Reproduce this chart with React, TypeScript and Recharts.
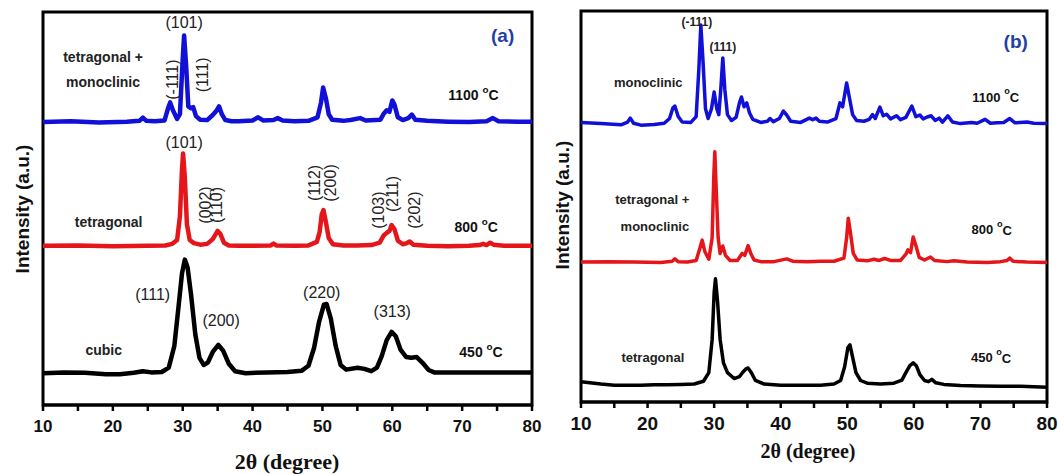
import { LineChart, Line, XAxis, YAxis, ReferenceDot, ReferenceArea } from 'recharts';

type Pt = [number, number];

// x axis: 2-theta, ticks every 5 degrees, labels every 10
const thetaTicks = [10, 15, 20, 25, 30, 35, 40, 45, 50, 55, 60, 65, 70, 75, 80];
const thetaLabels = [10, 20, 30, 40, 50, 60, 70, 80];

// panel (a) patterns, intensity in arbitrary units (0-100, offset per pattern)
const a1100: Pt[] = [
  [10, 72], [14, 72.2], [18, 71.9], [22, 72.1], [23.8, 72.3], [24.3, 73.1], [24.8, 72.3], [26, 72.2],
  [27.4, 72.4], [27.9, 75.5], [28.2, 77], [28.6, 75], [29.2, 72.8], [29.6, 74], [30.0, 88], [30.2, 94],
  [30.5, 86], [30.8, 76], [31.2, 75.5], [31.5, 75.8], [31.9, 73.5], [32.5, 72.6], [33.5, 72.5],
  [34.3, 73.8], [34.8, 74.8], [35.2, 76], [35.6, 74], [36.1, 72.5], [37, 72.2], [38, 72.2], [40, 72.4],
  [40.8, 73.2], [41.5, 72.4], [43, 72.5], [43.6, 73], [44.3, 72.4], [46, 72.2], [48, 72.3], [49.3, 73.2],
  [49.8, 77], [50.1, 80.8], [50.5, 78], [50.9, 74], [51.4, 72.6], [53, 72.3], [54, 72.5], [55.4, 73],
  [56.2, 72.4], [58.3, 72.6], [58.8, 74.2], [59.2, 75], [59.6, 74.6], [60.0, 77.5], [60.3, 76.5],
  [60.8, 73.2], [61.5, 72.5], [62.3, 73], [62.8, 73.9], [63.3, 72.6], [65, 72.3], [68, 72.1], [71, 72],
  [73.5, 72.2], [74.4, 73], [75.2, 72.2], [78, 72.1], [80, 72.1],
];
const a800: Pt[] = [
  [10, 40.5], [15, 40.6], [20, 40.4], [25, 40.5], [27.5, 40.6], [28.5, 41], [29.2, 42], [29.6, 48],
  [29.9, 60], [30.05, 64], [30.3, 58], [30.6, 46], [31, 42], [31.6, 41.2], [32.5, 40.8], [33.5, 41],
  [34.3, 42.2], [35, 44.3], [35.4, 43.5], [35.9, 41.3], [36.6, 40.6], [38, 40.5], [40, 40.5],
  [42.6, 40.6], [43, 41.1], [43.4, 40.6], [46, 40.5], [48, 40.6], [49.2, 41.5], [49.6, 44], [49.9, 48.5],
  [50.15, 49.6], [50.5, 46.5], [50.9, 42.5], [51.5, 40.9], [53, 40.6], [55, 40.6], [57, 40.7],
  [58.2, 41.3], [58.8, 43.2], [59.2, 43.8], [59.6, 44.3], [59.9, 45.8], [60.3, 44.8], [60.8, 41.8],
  [61.5, 40.9], [62.1, 41.2], [62.5, 41.6], [63, 40.8], [65, 40.5], [68, 40.4], [71, 40.5], [72.5, 40.7],
  [73, 41], [73.5, 40.7], [74, 41.3], [74.5, 40.8], [76, 40.5], [80, 40.5],
];
const a450: Pt[] = [
  [10, 8.1], [13, 8.3], [16, 8.2], [19, 7.8], [21, 7.8], [23, 8.2], [24.3, 8.6], [25.5, 8.3], [27, 8.4],
  [28, 9.5], [28.8, 15], [29.4, 25], [29.9, 33.5], [30.3, 37], [30.7, 35], [31.2, 28], [31.8, 18],
  [32.4, 12], [33, 10.2], [33.6, 10.8], [34.3, 13.5], [35.1, 15.3], [35.8, 13.8], [36.6, 10.5],
  [37.5, 8.6], [39, 8.1], [42, 8.3], [45, 8.4], [47, 8.7], [48, 10], [48.8, 14.5], [49.5, 21],
  [50.2, 25.5], [50.6, 25.7], [51.2, 22], [51.9, 15], [52.6, 10.2], [53.4, 9], [55, 9.5], [56, 9.2],
  [57, 8.6], [57.8, 9.5], [58.5, 12.5], [59.2, 16.5], [59.9, 18.6], [60.5, 17.5], [61.2, 14], [62, 12.2],
  [62.7, 12], [63.5, 12.2], [64.3, 10.8], [65.2, 8.9], [66, 8.3], [70, 8.3], [75, 8.3], [80, 8.3],
];

// panel (b) patterns
const b1100: Pt[] = [
  [10, 71.5], [13, 71.2], [16, 70.9], [17, 71.6], [17.4, 72.6], [17.9, 71.3], [19, 70.8], [21, 71],
  [22.5, 71.3], [23.3, 72.5], [23.8, 75.2], [24.1, 75.7], [24.6, 73], [25.2, 71.6], [26.5, 71.5],
  [27.3, 73], [27.7, 85], [28.0, 96.4], [28.3, 88], [28.7, 75], [29.1, 72.5], [29.6, 75], [30.0, 79.3],
  [30.4, 75], [30.7, 73.5], [31.0, 80], [31.3, 88], [31.6, 80], [32, 73.5], [32.6, 72], [33.3, 72.8],
  [33.8, 76.5], [34.1, 78], [34.5, 75.5], [34.9, 76.5], [35.3, 74], [35.8, 72.3], [37, 71.5], [38, 71.8],
  [38.4, 72.5], [38.9, 71.7], [39.8, 72.5], [40.4, 74.4], [40.9, 73.4], [41.5, 71.8], [43, 71.5],
  [44.3, 72.6], [44.8, 72.2], [45.3, 72.6], [45.8, 71.8], [47, 71.6], [48.3, 72.5], [48.9, 76.5],
  [49.3, 75.5], [49.9, 81.6], [50.3, 78], [50.8, 73.5], [51.4, 72], [52.5, 71.8], [53.3, 72.3],
  [53.8, 73.5], [54.2, 72.5], [54.9, 75.4], [55.4, 73.2], [55.9, 73.6], [56.5, 72.4], [57.4, 73.2],
  [58, 72.2], [58.8, 72.8], [59.7, 75.7], [60.3, 73], [60.9, 73.4], [61.4, 72.4], [62, 72.9],
  [62.6, 73.2], [63.2, 72], [63.8, 72.6], [64.3, 71.6], [65.1, 73.2], [65.8, 71.6], [67, 71.2],
  [68.7, 71.5], [69.5, 71.3], [70.7, 72.3], [71.5, 71.3], [72.5, 71.4], [73.5, 71.5], [74.4, 72.5],
  [75.2, 71.4], [77, 71.6], [78, 71.3], [80, 71.2],
];
const b800: Pt[] = [
  [10, 35.8], [14, 35.9], [18, 35.8], [22, 35.7], [23.7, 36], [24.1, 36.6], [24.6, 35.9], [26, 35.8],
  [27.3, 36.2], [27.8, 39], [28.2, 41.4], [28.6, 38.5], [29.2, 36.5], [29.7, 42], [29.95, 58],
  [30.1, 64], [30.3, 55], [30.6, 42], [30.9, 38], [31.3, 39.9], [31.7, 37.5], [32.4, 36.2], [33.5, 36.2],
  [34.2, 38], [34.6, 37.5], [35.1, 40], [35.5, 38], [36, 36.3], [37, 35.9], [39, 35.9], [40.9, 36.6],
  [41.8, 36], [44, 35.9], [46, 36], [48, 36], [49.5, 36.8], [49.9, 42], [50.15, 47], [50.5, 43],
  [50.9, 38], [51.5, 36.3], [53, 36.1], [54, 36.5], [54.8, 36.2], [55.6, 36.7], [56.5, 36.2], [58, 36.2],
  [58.8, 37.8], [59.1, 38.9], [59.5, 38.2], [59.9, 42.2], [60.3, 40], [60.8, 37], [61.6, 36.3],
  [62.5, 37.1], [63.1, 36.2], [65, 35.9], [66, 36.1], [68, 35.8], [71, 35.7], [73, 35.9], [74, 36.2],
  [74.4, 36.8], [74.9, 36], [77, 35.8], [80, 35.7],
];
const b450: Pt[] = [
  [10, 5.2], [11, 5.0], [13, 4.6], [15, 4.3], [17, 4.3], [19, 4.3], [21, 4.4], [23, 4.4], [25, 4.5],
  [27, 4.6], [28.4, 5.3], [29.2, 7.5], [29.7, 16], [30.0, 28], [30.2, 31.5], [30.5, 26], [30.9, 16],
  [31.4, 10], [32, 7.5], [33, 6], [33.8, 6.5], [34.3, 7.6], [34.8, 8.5], [35.1, 8.7], [35.6, 7.5],
  [36.2, 5.5], [37.5, 4.6], [40, 4.3], [43, 4.3], [46, 4.3], [48, 4.6], [49, 5.5], [49.6, 9], [50.1, 14],
  [50.4, 14.6], [50.8, 11.5], [51.3, 7.5], [52, 5.5], [53, 4.8], [55, 4.6], [57, 4.8], [58.2, 5.6],
  [58.8, 7.5], [59.4, 9.3], [59.9, 10], [60.4, 9.2], [60.9, 7], [61.6, 5.5], [62.2, 5.2], [62.7, 5.8],
  [63.3, 4.9], [64.5, 4.5], [67, 4.2], [70, 4.1], [73, 4.0], [76, 4.0], [80, 3.8],
];

type Note = { x: number; y: number; text: string; kind: 'phase' | 'hkl' | 'hklV' | 'temp' | 'tag' };

const notesA: Note[] = [
  { x: 18.6, y: 88.5, text: 'tetragonal +', kind: 'phase' },
  { x: 18.6, y: 82.2, text: 'monoclinic', kind: 'phase' },
  { x: 30.2, y: 97.3, text: '(101)', kind: 'hkl' },
  { x: 28.6, y: 82.8, text: '(-111)', kind: 'hklV' },
  { x: 32.8, y: 84.0, text: '(111)', kind: 'hklV' },
  { x: 71.6, y: 78.9, text: '1100', kind: 'temp' },
  { x: 75.8, y: 94.1, text: '(a)', kind: 'tag' },
  { x: 30.2, y: 66.7, text: '(101)', kind: 'hkl' },
  { x: 33.3, y: 50.9, text: '(002)', kind: 'hklV' },
  { x: 34.9, y: 50.9, text: '(110)', kind: 'hklV' },
  { x: 19.4, y: 46.6, text: 'tetragonal', kind: 'phase' },
  { x: 48.9, y: 56.5, text: '(112)', kind: 'hklV' },
  { x: 51.1, y: 56.5, text: '(200)', kind: 'hklV' },
  { x: 58.0, y: 49.6, text: '(103)', kind: 'hklV' },
  { x: 60.1, y: 53.7, text: '(211)', kind: 'hklV' },
  { x: 63.2, y: 49.6, text: '(202)', kind: 'hklV' },
  { x: 72.0, y: 45.3, text: '800', kind: 'temp' },
  { x: 25.7, y: 28.0, text: '(111)', kind: 'hkl' },
  { x: 35.5, y: 21.6, text: '(200)', kind: 'hkl' },
  { x: 18.7, y: 14.0, text: 'cubic', kind: 'phase' },
  { x: 49.9, y: 28.5, text: '(220)', kind: 'hkl' },
  { x: 60.0, y: 23.7, text: '(313)', kind: 'hkl' },
  { x: 72.7, y: 13.5, text: '450', kind: 'temp' },
];

const notesB: Note[] = [
  { x: 27.4, y: 97.2, text: '(-111)', kind: 'hkl' },
  { x: 31.3, y: 90.8, text: '(111)', kind: 'hkl' },
  { x: 20.1, y: 81.6, text: 'monoclinic', kind: 'phase' },
  { x: 72.3, y: 78.0, text: '1100', kind: 'temp' },
  { x: 75.3, y: 92.1, text: '(b)', kind: 'tag' },
  { x: 20.7, y: 51.7, text: 'tetragonal +', kind: 'phase' },
  { x: 21.1, y: 44.8, text: 'monoclinic', kind: 'phase' },
  { x: 71.7, y: 44.0, text: '800', kind: 'temp' },
  { x: 20.8, y: 11.5, text: 'tetragonal', kind: 'phase' },
  { x: 71.6, y: 11.3, text: '450', kind: 'temp' },
];

const SANS = "'Liberation Sans', Arial, sans-serif";
const SERIF = "'Liberation Serif', 'Times New Roman', serif";
const BLUE = '#1010d8';
const RED = '#e4161a';

const toRows = (pts: Pt[]) => pts.map(([x, y]) => ({ x, y }));

type Style = { phase: number; hkl: number; hklWeight: number; temp: number; tag: number };

const renderNote = (n: Note, st: Style) => (p: any) => {
  const { cx, cy } = p;
  if (n.kind === 'temp') {
    return (
      <text x={cx} y={cy} textAnchor="middle" dominantBaseline="central" fontFamily={SANS}
        fontWeight="bold" fontSize={st.temp} fill="#111">
        {n.text + ' '}
        <tspan fontSize={st.temp * 0.7} dy={-st.temp * 0.45}>o</tspan>
        <tspan dy={st.temp * 0.45}>C</tspan>
      </text>
    );
  }
  if (n.kind === 'tag') {
    return (
      <text x={cx} y={cy} textAnchor="middle" dominantBaseline="central" fontFamily={SANS}
        fontWeight="bold" fontSize={st.tag} fill="#1f3fa8">{n.text}</text>
    );
  }
  if (n.kind === 'hklV') {
    return (
      <text x={cx} y={cy} textAnchor="middle" dominantBaseline="central" fontFamily={SANS}
        fontSize={st.hkl} fontWeight={st.hklWeight} fill="#222" transform={`rotate(-90 ${cx} ${cy})`}>{n.text}</text>
    );
  }
  return (
    <text x={cx} y={cy} textAnchor="middle" dominantBaseline="central" fontFamily={SANS}
      fontWeight={n.kind === 'phase' ? 'bold' : st.hklWeight}
      fontSize={n.kind === 'phase' ? st.phase : st.hkl} fill="#222">{n.text}</text>
  );
};

type PanelProps = {
  left: number;
  width: number;
  margin: { top: number; right: number; bottom: number; left: number };
  series: { pts: Pt[]; color: string }[];
  notes: Note[];
  lineWidth: number;
  tickSize: number;
  tickDy: number;
  style: Style;
};

const Panel = ({ left, width, margin, series, notes, lineWidth, tickSize, tickDy, style }: PanelProps) => (
  <div style={{ position: 'absolute', left, top: 0 }}>
    <LineChart width={width} height={474} margin={margin}>
      <XAxis
        dataKey="x"
        type="number"
        domain={[10, 80]}
        ticks={thetaTicks}
        interval={0}
        allowDataOverflow
        height={40}
        axisLine={{ stroke: '#000', strokeWidth: 3 }}
        tickLine={{ stroke: '#000', strokeWidth: 2.5 }}
        tickSize={6}
        tick={(p: any) =>
          thetaLabels.includes(p.payload.value) ? (
            <text x={p.x} y={p.y + tickDy} textAnchor="middle" fontFamily={SANS} fontWeight="bold"
              fontSize={tickSize} fill="#111">{p.payload.value}</text>
          ) : <g />
        }
      />
      <YAxis hide type="number" domain={[0, 100]} />
      <ReferenceArea x1={10} x2={80} y1={0} y2={100} fill="none" stroke="#000" strokeWidth={3} />
      {series.map((s, i) => (
        <Line
          key={i}
          data={toRows(s.pts)}
          dataKey="y"
          type="linear"
          stroke={s.color}
          strokeWidth={lineWidth}
          strokeLinejoin="round"
          dot={false}
          isAnimationActive={false}
        />
      ))}
      {notes.map((n, i) => (
        <ReferenceDot key={`n${i}`} x={n.x} y={n.y} r={0} ifOverflow="visible" shape={renderNote(n, style)} />
      ))}
    </LineChart>
  </div>
);

export default function App() {
  return (
    <div style={{ position: 'absolute', left: 0, top: 0, width: 1058, height: 474, background: '#fff' }}>
      <Panel
        left={0}
        width={545}
        margin={{ top: 12, right: 13, bottom: 29, left: 43 }}
        series={[
          { pts: a450, color: '#000' },
          { pts: a800, color: RED },
          { pts: a1100, color: BLUE },
        ]}
        notes={notesA}
        lineWidth={4.5}
        tickSize={17}
        tickDy={19}
        style={{ phase: 14, hkl: 16, hklWeight: 500, temp: 14, tag: 19 }}
      />
      <Panel
        left={540}
        width={518}
        margin={{ top: 11, right: 11, bottom: 32, left: 41 }}
        series={[
          { pts: b450, color: '#000' },
          { pts: b800, color: RED },
          { pts: b1100, color: BLUE },
        ]}
        notes={notesB}
        lineWidth={3.5}
        tickSize={19}
        tickDy={20}
        style={{ phase: 13, hkl: 12, hklWeight: 700, temp: 13, tag: 19 }}
      />
      <svg width={1058} height={474} style={{ position: 'absolute', left: 0, top: 0, pointerEvents: 'none' }}>
        <text x={0} y={0} transform="translate(22 209) rotate(-90)" textAnchor="middle" dominantBaseline="central"
          fontFamily={SANS} fontWeight="bold" fontSize={19} fill="#111">Intensity (a.u.)</text>
        <text x={0} y={0} transform="translate(562 205) rotate(-90)" textAnchor="middle" dominantBaseline="central"
          fontFamily={SANS} fontWeight="bold" fontSize={19} fill="#111">Intensity (a.u.)</text>
        <text x={287} y={469} textAnchor="middle" fontFamily={SERIF} fontWeight="bold" fontSize={22} fill="#111">2θ (degree)</text>
        <text x={808} y={458} textAnchor="middle" fontFamily={SERIF} fontWeight="bold" fontSize={20} fill="#111">2θ (degree)</text>
      </svg>
    </div>
  );
}
